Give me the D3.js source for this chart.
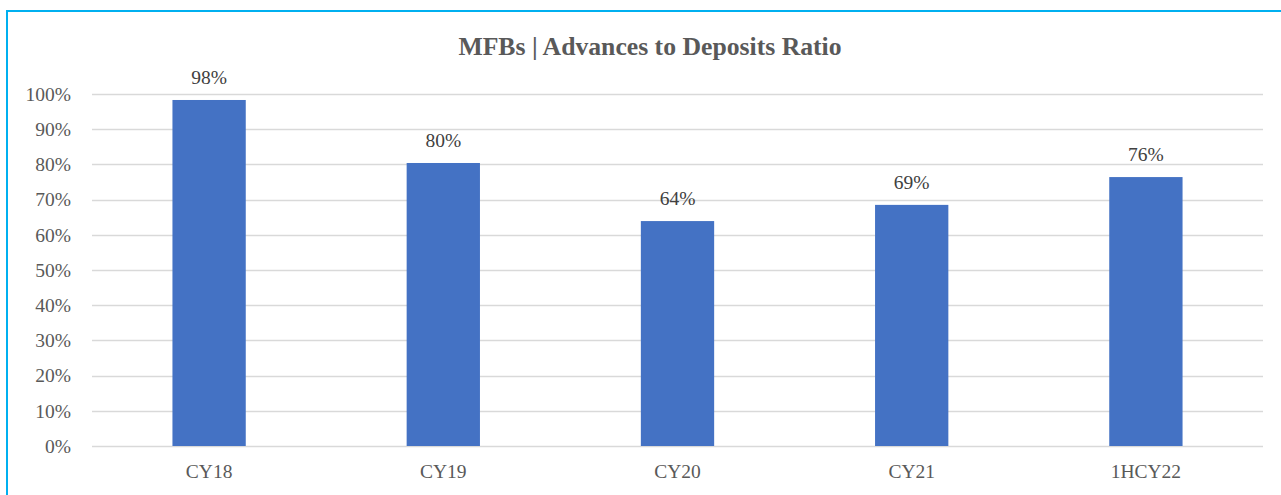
<!DOCTYPE html>
<html>
<head>
<meta charset="utf-8">
<script src="https://cdn.jsdelivr.net/npm/d3@7"></script>
<style>
  html, body { margin: 0; padding: 0; background: #fff; }
  svg { display: block; }
</style>
</head>
<body>
<svg id="chart"></svg>
<script>
const categories = ['CY18', 'CY19', 'CY20', 'CY21', '1HCY22'];
const ratios = [0.983, 0.804, 0.639, 0.685, 0.764];
const valueLabels = ['98%', '80%', '64%', '69%', '76%'];
const yTicks = [0, 0.1, 0.2, 0.3, 0.4, 0.5, 0.6, 0.7, 0.8, 0.9, 1.0];

const W = 1281, H = 495;
const margin = { top: 94, right: 18, bottom: 49, left: 92 };
const width = W - margin.left - margin.right;
const height = H - margin.top - margin.bottom;
const font = '"Liberation Serif", "Times New Roman", serif';

const svg = d3.select('#chart')
  .attr('width', W)
  .attr('height', H);

// frame
svg.append('path')
  .attr('d', `M7,${H + 5} V11 H${W + 5}`)
  .attr('fill', 'none')
  .attr('stroke', '#00b0f0')
  .attr('stroke-width', 2);

svg.append('text')
  .attr('x', 650)
  .attr('y', 55)
  .attr('text-anchor', 'middle')
  .style('font-family', font)
  .style('font-weight', 'bold')
  .style('font-size', '25.7px')
  .style('fill', '#595959')
  .text('MFBs | Advances to Deposits Ratio');

const g = svg.append('g')
  .attr('transform', `translate(${margin.left},${margin.top})`);

const x = d3.scaleBand()
  .domain(categories)
  .range([0, width])
  .padding(0);

const y = d3.scaleLinear()
  .domain([0, 1])
  .range([height, 0]);

// gridlines
g.append('g')
  .attr('class', 'grid')
  .selectAll('line')
  .data(yTicks)
  .enter()
  .append('line')
  .attr('x1', 0)
  .attr('x2', width)
  .attr('y1', (d) => Math.round(y(d)) + 0.5)
  .attr('y2', (d) => Math.round(y(d)) + 0.5)
  .attr('stroke', '#d9d9d9')
  .attr('stroke-width', 1.5);

const yAxis = g.append('g')
  .attr('class', 'y-axis')
  .call(d3.axisLeft(y).tickValues(yTicks).tickFormat(d3.format('.0%')).tickSize(0).tickPadding(21));
yAxis.select('.domain').remove();
yAxis.selectAll('text')
  .style('font-family', font)
  .style('font-size', '19.5px')
  .style('fill', '#595959');

const xAxis = g.append('g')
  .attr('class', 'x-axis')
  .attr('transform', `translate(0,${height})`)
  .call(d3.axisBottom(x).tickSize(0).tickPadding(18));
xAxis.select('.domain').remove();
xAxis.selectAll('text')
  .style('font-family', font)
  .style('font-size', '19.5px')
  .style('fill', '#595959');

const barW = x.bandwidth() * 0.313;

g.selectAll('.bar')
  .data(categories)
  .enter()
  .append('rect')
  .attr('class', 'bar')
  .attr('x', (d) => x(d) + (x.bandwidth() - barW) / 2)
  .attr('y', (d, i) => y(ratios[i]))
  .attr('width', barW)
  .attr('height', (d, i) => height - y(ratios[i]))
  .attr('fill', '#4472c4');

g.selectAll('.label')
  .data(categories)
  .enter()
  .append('text')
  .attr('class', 'label')
  .attr('x', (d) => x(d) + x.bandwidth() / 2)
  .attr('y', (d, i) => y(ratios[i]) - 16)
  .attr('text-anchor', 'middle')
  .style('font-family', font)
  .style('font-size', '19.5px')
  .style('fill', '#404040')
  .text((d, i) => valueLabels[i]);
</script>
</body>
</html>
